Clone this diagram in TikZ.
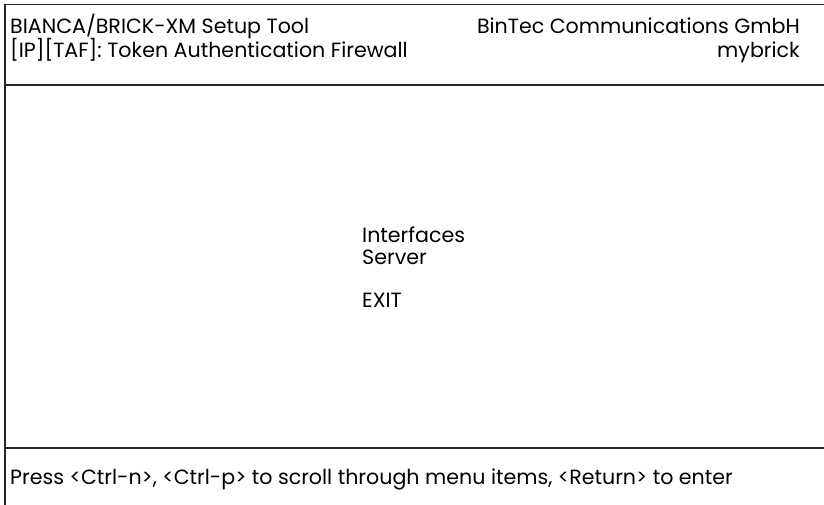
\documentclass[tikz,border=0pt]{standalone}
\usepackage{fontspec}
\setmainfont{Poppins}
\begin{document}
\begin{tikzpicture}[x=1pt,y=-1pt,
  txt/.style={inner sep=0pt,font=\fontsize{20.6}{24}\selectfont},
  frame/.style={line width=1.8pt,draw=black!85}]
\useasboundingbox (0,0) rectangle (824,504);
\coordinate (tl) at (5,4.5);
\coordinate (tr) at (826,4.5);
\coordinate (bl) at (5,506);
\coordinate (hl) at (5,85);
\coordinate (hr) at (826,85);
\coordinate (fl) at (5,448);
\coordinate (fr) at (826,448);
\draw[frame] (tr) -- (tl) -- (bl);
\draw[frame] (hl) -- (hr);
\draw[frame] (fl) -- (fr);
\node[txt,anchor=base west] (t1) at (10,33.5) {BIANCA/BRICK-XM Setup Tool};
\node[txt,anchor=base west] (t2) at (10,57.5) {[IP][TAF]: Token Authentication Firewall};
\node[txt,anchor=base east] (t3) at (800,33.5) {BinTec Communications GmbH};
\node[txt,anchor=base east] (t4) at (800,57.5) {mybrick};
\node[txt,anchor=base west] (m1) at (362,242.5) {Interfaces};
\node[txt,anchor=base west] (m2) at (362,264) {Server};
\node[txt,anchor=base west] (m3) at (362,307) {EXIT};
\node[txt,anchor=base west] (f1) at (10,484) {Press <Ctrl-n>, <Ctrl-p> to scroll through menu items, <Return> to enter};
\end{tikzpicture}
\end{document}
